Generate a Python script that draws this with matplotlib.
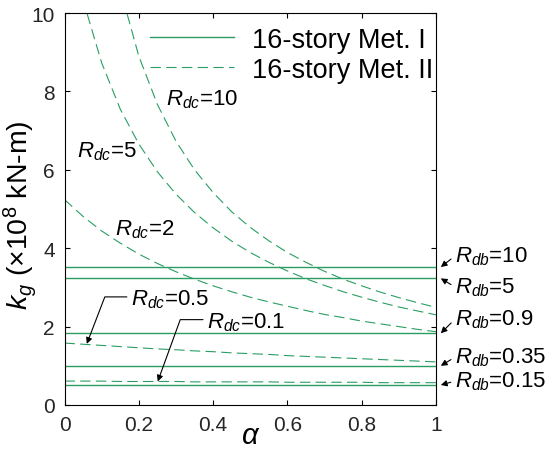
import numpy as np
import matplotlib.pyplot as plt

plt.rcParams['font.family'] = 'Liberation Sans'
plt.rcParams['mathtext.fontset'] = 'custom'
plt.rcParams['mathtext.rm'] = 'Liberation Sans'
plt.rcParams['mathtext.it'] = 'Liberation Sans:italic'
plt.rcParams['mathtext.bf'] = 'Liberation Sans:bold'
plt.rcParams['lines.scale_dashes'] = False

# alpha grid
alpha = [0.00, 0.05, 0.10, 0.15, 0.20, 0.25, 0.30, 0.35, 0.40, 0.45, 0.50,
         0.55, 0.60, 0.65, 0.70, 0.75, 0.80, 0.85, 0.90, 0.95, 1.00]

# Met. I : constant k_g for each R_db
rdb_labels = ['10', '5', '0.9', '0.35', '0.15']
kg_met1 = [3.52, 3.23, 1.83, 1.00, 0.51]

# Met. II : k_g vs alpha for each R_dc
kg_rdc10 = [25.0, 17.2, 13.14, 10.61, 8.90, 7.67, 6.73, 6.00, 5.42, 4.93, 4.53,
            4.19, 3.89, 3.64, 3.41, 3.21, 3.04, 2.88, 2.74, 2.61, 2.49]
kg_rdc5 = [12.66, 10.33, 8.73, 7.55, 6.66, 5.95, 5.38, 4.91, 4.52, 4.18, 3.89,
           3.64, 3.42, 3.22, 3.05, 2.89, 2.75, 2.62, 2.50, 2.40, 2.30]
kg_rdc2 = [5.24, 4.81, 4.44, 4.13, 3.85, 3.61, 3.40, 3.21, 3.04, 2.89, 2.75,
           2.63, 2.52, 2.41, 2.31, 2.23, 2.14, 2.07, 2.00, 1.93, 1.87]
kg_rdc05 = [1.58, 1.55, 1.52, 1.49, 1.46, 1.43, 1.41, 1.38, 1.36, 1.33, 1.31,
            1.29, 1.26, 1.24, 1.22, 1.20, 1.18, 1.16, 1.14, 1.12, 1.10]
kg_rdc01 = [0.61, 0.61, 0.61, 0.60, 0.60, 0.60, 0.60, 0.59, 0.59, 0.59, 0.59,
            0.59, 0.58, 0.58, 0.58, 0.58, 0.58, 0.57, 0.57, 0.57, 0.57]

green = '#2a9e62'
dash = (7.5, 3.8)

fig = plt.figure(figsize=(5.54, 4.56), dpi=100)
ax = fig.add_axes([64.5/554, 50/456, 371.5/554, 392/456])

for i, v in enumerate(kg_met1):
    ax.plot([alpha[0], alpha[-1]], [v, v], color=green, lw=1.0,
            label='16-story Met. I' if i == 0 else None)

curves = [kg_rdc10, kg_rdc5, kg_rdc2, kg_rdc05, kg_rdc01]
for i, c in enumerate(curves):
    ax.plot(alpha, c, color=green, lw=0.8, dashes=dash,
            label='16-story Met. II' if i == 0 else None)

ax.set_xlim(0, 1)
ax.set_ylim(0, 10)
ax.set_xticks([0, 0.2, 0.4, 0.6, 0.8, 1])
ax.set_xticklabels(['0', '0.2', '0.4', '0.6', '0.8', '1'])
ax.set_yticks([0, 2, 4, 6, 8, 10])
ax.tick_params(direction='in', top=True, right=True, length=3.6, width=0.8,
               labelsize=15, labelcolor='#262626', pad=7)
for s in ax.spines.values():
    s.set_linewidth(0.8)

ax.set_xlabel(r'$\alpha$', fontsize=21, labelpad=-9)
ax.set_ylabel(r'$k_g$ (×10$^8$ kN-m)', fontsize=20.5)
ax.yaxis.set_label_coords(-0.069, 0.487)

leg = ax.legend(loc='upper left', bbox_to_anchor=(0.23, 0.965), frameon=False,
                fontsize=19.5, handlelength=3.1, handletextpad=0.65,
                labelspacing=0.15, borderpad=0, borderaxespad=0)

fs = 16
ax.text(0.273, 7.81, '$R_{dc}$=10', fontsize=fs, va='center')
ax.text(0.034, 6.48, '$R_{dc}$=5', fontsize=fs, va='center')
ax.text(0.136, 4.49, '$R_{dc}$=2', fontsize=fs, va='center')

ap = dict(arrowstyle='-|>', color='black', lw=0.8, mutation_scale=9,
          shrinkA=1, shrinkB=0)
ax.annotate('$R_{dc}$=0.5', xy=(0.06, 1.56), xytext=(0.179, 2.70),
            fontsize=fs, va='center', ha='left',
            arrowprops=dict(ap, relpos=(0, 0.6),
                            connectionstyle='angle,angleA=0,angleB=69,rad=0'))
ax.annotate('$R_{dc}$=0.1', xy=(0.251, 0.60), xytext=(0.384, 2.12),
            fontsize=fs, va='center', ha='left',
            arrowprops=dict(ap, relpos=(0, 0.6),
                            connectionstyle='angle,angleA=0,angleB=70,rad=0'))

text_y = [3.80, 3.01, 2.19, 1.22, 0.61]
for lab, v, ty in zip(rdb_labels, kg_met1, text_y):
    ax.annotate('$R_{db}$=' + lab, xy=(1.013, v), xytext=(1.051, ty),
                fontsize=fs, va='center', ha='left', annotation_clip=False,
                arrowprops=dict(ap, relpos=(0, 0.5)))

fig.savefig('out.png', dpi=100)
